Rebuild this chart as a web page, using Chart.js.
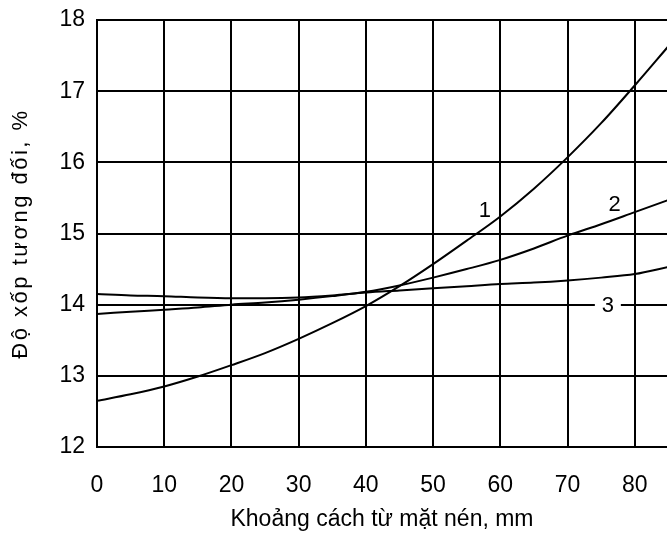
<!DOCTYPE html>
<html>
<head>
<meta charset="utf-8">
<script src="https://cdn.jsdelivr.net/npm/chart.js@4/dist/chart.umd.min.js"></script>
<style>
  html, body { margin: 0; padding: 0; background: #fff; }
  #wrap { width: 667px; height: 534px; }
</style>
</head>
<body>
<div id="wrap"><canvas id="c" width="667" height="534"></canvas></div>
<script>
// ---- data ----
const distances = [0, 5, 10, 15, 20, 25, 30, 35, 40, 45, 50, 55, 60, 65, 70, 75, 80, 85];
const curve1 = [12.65, 12.74, 12.85, 12.99, 13.15, 13.32, 13.52, 13.74, 13.98, 14.26, 14.57, 14.9, 15.24, 15.63, 16.07, 16.55, 17.08, 17.63];
const curve2 = [13.87, 13.9, 13.93, 13.96, 14.0, 14.03, 14.07, 14.12, 14.18, 14.27, 14.38, 14.5, 14.63, 14.79, 14.97, 15.13, 15.3, 15.47];
const curve3 = [14.15, 14.13, 14.12, 14.1, 14.09, 14.09, 14.1, 14.13, 14.17, 14.2, 14.23, 14.26, 14.29, 14.31, 14.34, 14.38, 14.43, 14.53];
const curveNames = ['1', '2', '3'];
const labelX = [57.7, 77, 76];
const labelY = [15.33, 15.41, 14.0];
const xTickValues = [0, 10, 20, 30, 40, 50, 60, 70, 80];
const yTickValues = [12, 13, 14, 15, 16, 17, 18];
const xTitle = 'Khoảng cách từ mặt nén, mm';
const yTitle = 'Độ xốp tương đối, %';

const FONT = '"Liberation Sans", Arial, sans-serif';

function toPoints(ys) { return distances.map((x, i) => ({ x: x, y: ys[i] })); }

const curveLabels = {
  id: 'curveLabels',
  afterDatasetsDraw(chart) {
    const { ctx, scales: { x, y } } = chart;
    ctx.save();
    ctx.font = '22px ' + FONT;
    ctx.textAlign = 'center';
    ctx.textBaseline = 'middle';
    curveNames.forEach((name, i) => {
      const px = x.getPixelForValue(labelX[i]);
      const py = y.getPixelForValue(labelY[i]);
      if (i === 2) {
        ctx.fillStyle = '#fff';
        ctx.fillRect(px - 13, py - 4, 26, 8);
      }
      ctx.fillStyle = '#000';
      ctx.fillText(name, px, py + 1);
    });
    ctx.restore();
  }
};

const mk = (ys) => ({
  data: toPoints(ys),
  borderColor: '#000',
  borderWidth: 2,
  pointRadius: 0,
  fill: false,
  cubicInterpolationMode: 'monotone'
});

new Chart(document.getElementById('c'), {
  type: 'line',
  data: { datasets: [mk(curve1), mk(curve2), mk(curve3)] },
  options: {
    responsive: false,
    animation: false,
    events: [],
    layout: { padding: { top: 20, right: 0, left: 0, bottom: 0 } },
    plugins: { legend: { display: false }, tooltip: { enabled: false } },
    scales: {
      x: {
        type: 'linear',
        min: 0,
        max: 84.8,
        afterFit(s) { s.height = 87; s.paddingLeft = 0; s.paddingRight = 0; },
        afterBuildTicks(s) { s.ticks = xTickValues.map(v => ({ value: v })); },
        grid: { color: '#000', lineWidth: 2, drawTicks: false },
        border: { color: '#000', width: 2 },
        ticks: { color: '#000', font: { family: FONT, size: 23 }, padding: 25, maxRotation: 0 },
        title: { display: true, text: xTitle, color: '#000', font: { family: FONT, size: 23 }, padding: { top: 0, bottom: 1 } }
      },
      y: {
        type: 'linear',
        min: 12,
        max: 18,
        afterFit(s) {
          s.width = 97; s.paddingTop = 0; s.paddingBottom = 0;
          if (!s._spacedTitle) {
            const orig = s.drawTitle;
            s.drawTitle = function () {
              this.ctx.save();
              this.ctx.letterSpacing = '2.5px';
              orig.call(this);
              this.ctx.restore();
            };
            s._spacedTitle = true;
          }
        },
        afterBuildTicks(s) { s.ticks = yTickValues.map(v => ({ value: v })); },
        grid: { color: '#000', lineWidth: 2, drawTicks: false },
        border: { color: '#000', width: 2 },
        ticks: { color: '#000', font: { family: FONT, size: 23 }, padding: 12 },
        title: { display: true, text: yTitle, color: '#000', font: { family: FONT, size: 22 }, padding: { top: 8, bottom: 0 } }
      }
    }
  },
  plugins: [curveLabels]
});
</script>
</body>
</html>
